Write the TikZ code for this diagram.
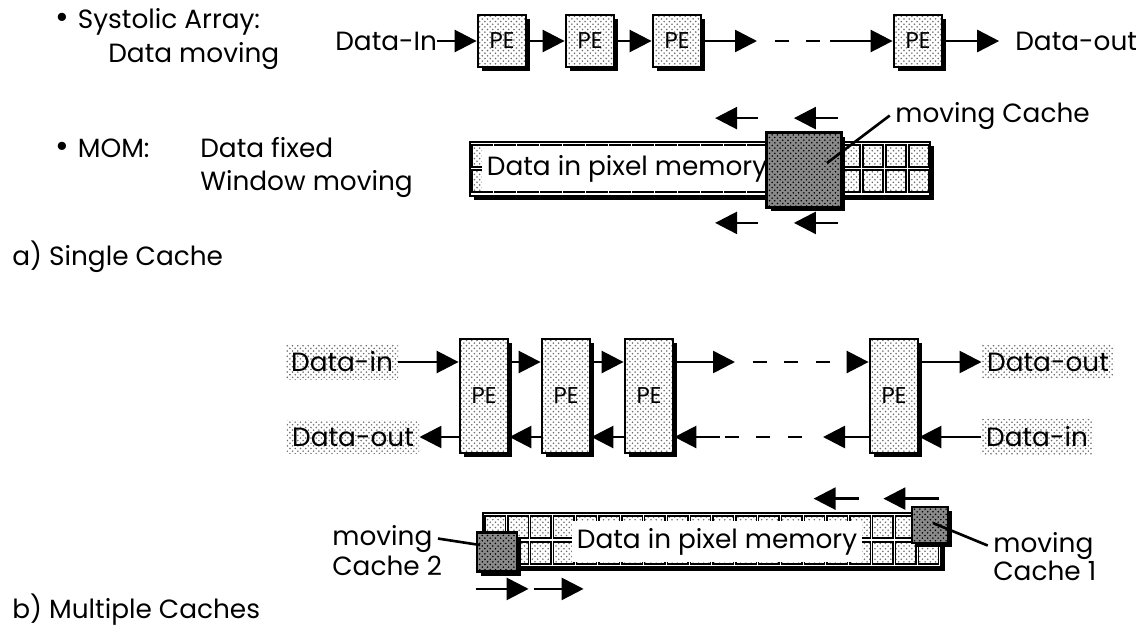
\documentclass[tikz,border=0pt]{standalone}
\usepackage{fontspec}
\setmainfont{Poppins}
\usetikzlibrary{arrows.meta,positioning,calc,shadows,patterns}
\definecolor{dotc}{HTML}{6E6E6E}
\definecolor{cachec}{HTML}{8A8A8A}
\newcommand{\bdot}{{\fontsize{19}{19}\selectfont\raisebox{-0.5pt}{•}}\hspace{5pt}}

\begin{document}
\begin{tikzpicture}[x=0.02cm,y=-0.02cm,>={Triangle[length=0.44cm,width=0.44cm]},
  txt/.style={font=\fontsize{15}{18}\selectfont,inner sep=0pt},
  tone/.style={preaction={fill=white},pattern=crosshatch dots,pattern color=dotc},
  dropsh/.style={drop shadow={shadow xshift=0.08cm,shadow yshift=-0.08cm,fill=black,opacity=1}},
  pe/.style={draw,line width=1.6pt,dropsh,tone,minimum width=0.96cm,inner sep=0pt,font=\fontsize{13}{15}\selectfont},
  cache/.style={draw,line width=1.6pt,dropsh,preaction={fill=cachec},pattern=crosshatch dots,pattern color=black},
  strip/.style={draw,line width=1.6pt,dropsh,fill=white,inner sep=0pt},
  cell/.style={draw,line width=0.8pt,tone},
  tag/.style={txt,tone,inner xsep=3pt,inner ysep=4pt},
  flow/.style={->,line width=1.5pt},
  gap/.style={line width=1.5pt,dash pattern=on 8pt off 10pt},
  lead/.style={line width=1.5pt}]
  \useasboundingbox (0,0) rectangle (1140,633);

  % a) single cache
  \node[txt,anchor=base west] (sys) at (55,28) {\bdot Systolic Array:};
  \node[txt,anchor=base west] (sysm) at (108,62) {Data moving};
  \node[txt,anchor=west] (din) at (335,41) {Data-In};
  \foreach \n/\x in {1/502,2/590,3/677,4/918}
    \node[pe,minimum height=1.04cm] (p\n) at (\x,41) {PE};
  \node[txt,anchor=west] (dout) at (1015,41) {Data-out};
  \coordinate (pa) at (757,41);
  \coordinate (pb) at (830,41);
  \draw[flow] (din) -- (p1);
  \draw[flow] (p1) -- (p2);
  \draw[flow] (p2) -- (p3);
  \draw[flow] (p3) -- (pa);
  \draw[gap] ([xshift=10pt]pa) -- (pb);
  \draw[flow] (pb) -- (p4);
  \draw[flow,shorten >=9pt] (p4) -- (dout);

  \node[txt,anchor=base west] (mom) at (55,157) {\bdot MOM:};
  \node[txt,anchor=base west] (fix) at (200,157) {Data fixed};
  \node[txt,anchor=base west] (win) at (200,190) {Window moving};
  \node[strip,minimum width=9.2cm,minimum height=1.08cm] (mem1) at (700,169) {};
  \foreach \i in {0,...,19}{
    \draw[cell] (472+23*\i,145) rectangle ++(20,22);
    \draw[cell] (472+23*\i,170) rectangle ++(20,22);
  }
  \node[txt,fill=white,inner xsep=3pt,inner ysep=5pt,anchor=base] (tm1) at (627,175) {Data in pixel memory};
  \node[cache,minimum size=1.5cm] (c1) at (804,170) {};
  \draw[flow] ([shift={(-7,-13)}]c1.north west) -- ++(-43,0);
  \draw[flow] ([shift={(-5,-13)}]c1.north east) -- ++(-44,0);
  \draw[flow] ([shift={(-7,14)}]c1.south west) -- ++(-43,0);
  \draw[flow] ([shift={(-5,14)}]c1.south east) -- ++(-44,0);
  \node[txt,anchor=base west] (mc) at (895,122) {moving Cache};
  \draw[lead] ([xshift=-3pt]mc.west) -- ([shift={(23,-7)}]c1.center);

  \node[txt,anchor=base west] (capa) at (12,265) {a) Single Cache};

  % b) multiple caches
  \node[tag] (di1) at (342,362) {Data-in};
  \node[tag] (do1) at (353,437) {Data-out};
  \node[tag] (do2) at (1048,362) {Data-out};
  \node[tag] (di2) at (1037,437) {Data-in};
  \foreach \n/\x in {1/484,2/566,3/649,4/894}
    \node[pe,minimum height=2.28cm] (q\n) at (\x,396) {PE};
  \coordinate (ta) at (735,362);
  \coordinate (tb) at (855,362);
  \coordinate (ba) at (823,437);
  \coordinate (bb) at (720,437);
  \draw[flow] (di1) -- (di1 -| q1.west);
  \draw[flow] (q1.east |- di1) -- (q2.west |- di1);
  \draw[flow] (q2.east |- di1) -- (q3.west |- di1);
  \draw[flow] (q3.east |- di1) -- (ta);
  \draw[gap] ([xshift=10pt]ta) -- (tb);
  \draw[flow] (tb) -- (q4.west |- di1);
  \draw[flow] (q4.east |- di1) -- (do2);
  \draw[flow] (di2) -- (di2 -| q4.east);
  \draw[flow] (q4.west |- di2) -- (ba);
  \draw[gap] ([xshift=-12pt]ba) -- (bb);
  \draw[flow] (bb) -- (q3.east |- di2);
  \draw[flow] (q3.west |- di2) -- (q2.east |- di2);
  \draw[flow] (q2.west |- di2) -- (q1.east |- di2);
  \draw[flow] (q1.west |- di2) -- (do1);

  \node[strip,minimum width=9.16cm,minimum height=1.08cm] (mem2) at (712,540) {};
  \foreach \i in {0,...,19}{
    \draw[cell] (485+22.8*\i,516) rectangle ++(20.5,22);
    \draw[cell] (485+22.8*\i,542) rectangle ++(20.5,22);
  }
  \node[txt,fill=white,inner xsep=3pt,inner ysep=4pt,anchor=base] (tm2) at (717,548) {Data in pixel memory};
  \node[cache,minimum width=0.8cm,minimum height=0.78cm] (ca2) at (497,552) {};
  \node[cache,minimum size=0.72cm] (ca1) at (930,525) {};
  \draw[flow] ([shift={(-52,-7)}]ca1.north west) -- ++(-45,0);
  \draw[flow] ([shift={(-10,-7)}]ca1.north east) -- ++(-56,0);
  \draw[flow] ([shift={(0,16)}]ca2.south west) -- ++(53,0);
  \draw[flow] ([shift={(58,16)}]ca2.south west) -- ++(50,0);
  \node[txt,anchor=base west] (mv2) at (332,545) {moving};
  \node[txt,anchor=base west] (cc2) at (332,575) {Cache 2};
  \draw[lead] ([xshift=3pt]mv2.east) -- ([shift={(-17,-7)}]ca2.center);
  \node[txt,anchor=base west] (mv1) at (993,552) {moving};
  \node[txt,anchor=base west] (cc1) at (993,580) {Cache 1};
  \draw[lead] ([xshift=-3pt]mv1.west) -- ([shift={(3,-2)}]ca1.center);

  \node[txt,anchor=base west] (capb) at (12,618) {b) Multiple Caches};
\end{tikzpicture}
\end{document}
